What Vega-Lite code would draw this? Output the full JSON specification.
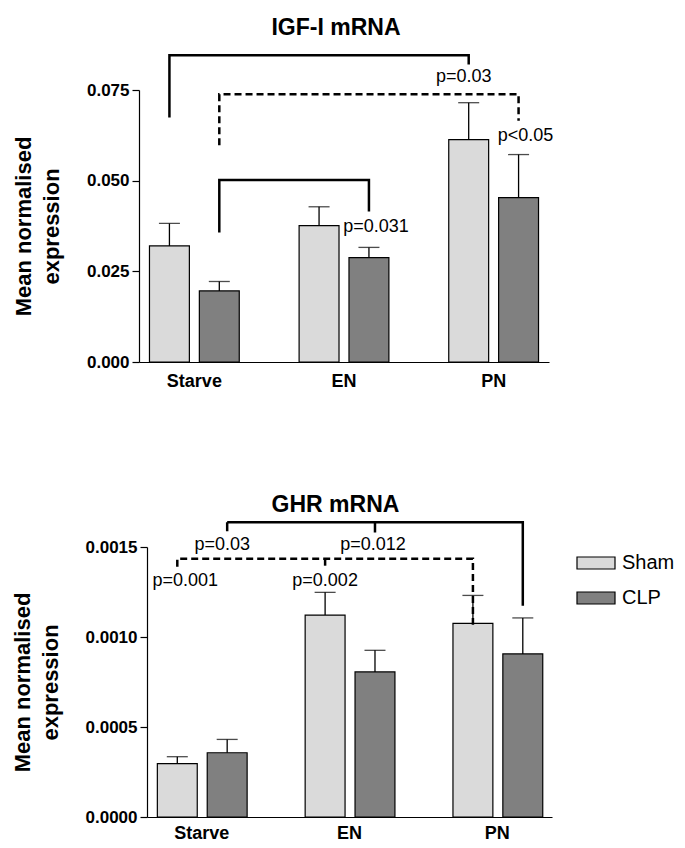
{
  "$schema": "https://vega.github.io/schema/vega-lite/v6.json",
  "background": "white",
  "padding": {"left": 11, "top": 17, "right": 5, "bottom": 5},
  "datasets": {
    "igf": [
      {"group": "Starve", "series": "Sham", "mean": 0.0320, "upper": 0.0382},
      {"group": "Starve", "series": "CLP", "mean": 0.0196, "upper": 0.0222},
      {"group": "EN", "series": "Sham", "mean": 0.0376, "upper": 0.0428},
      {"group": "EN", "series": "CLP", "mean": 0.0288, "upper": 0.0316},
      {"group": "PN", "series": "Sham", "mean": 0.0613, "upper": 0.0715},
      {"group": "PN", "series": "CLP", "mean": 0.0453, "upper": 0.0572}
    ],
    "igf_br": [
      {"id": "a", "style": "solid", "group": "Starve", "series": "Sham", "y": 0.0674, "ord": 1},
      {"id": "a", "style": "solid", "group": "Starve", "series": "Sham", "y": 0.0846, "ord": 2},
      {"id": "a", "style": "solid", "group": "PN", "series": "Sham", "y": 0.0846, "ord": 3},
      {"id": "a", "style": "solid", "group": "PN", "series": "Sham", "y": 0.0820, "ord": 4},
      {"id": "b", "style": "dashed", "group": "Starve", "series": "CLP", "y": 0.0598, "ord": 1},
      {"id": "b", "style": "dashed", "group": "Starve", "series": "CLP", "y": 0.0738, "ord": 2},
      {"id": "b", "style": "dashed", "group": "PN", "series": "CLP", "y": 0.0738, "ord": 3},
      {"id": "b", "style": "dashed", "group": "PN", "series": "CLP", "y": 0.0665, "ord": 4},
      {"id": "c", "style": "solid", "group": "Starve", "series": "CLP", "y": 0.0357, "ord": 1},
      {"id": "c", "style": "solid", "group": "Starve", "series": "CLP", "y": 0.0502, "ord": 2},
      {"id": "c", "style": "solid", "group": "EN", "series": "CLP", "y": 0.0502, "ord": 3},
      {"id": "c", "style": "solid", "group": "EN", "series": "CLP", "y": 0.0415, "ord": 4}
    ],
    "igf_lab": [
      {"group": "PN", "series": "Sham", "y": 0.0787, "label": "p=0.03"},
      {"group": "PN", "series": "CLP", "y": 0.0622, "label": "p<0.05"},
      {"group": "EN", "series": "CLP", "y": 0.0371, "label": "p=0.031"}
    ],
    "ghr": [
      {"group": "Starve", "series": "Sham", "mean": 0.000296, "upper": 0.000335},
      {"group": "Starve", "series": "CLP", "mean": 0.000357, "upper": 0.000431},
      {"group": "EN", "series": "Sham", "mean": 0.001122, "upper": 0.001248},
      {"group": "EN", "series": "CLP", "mean": 0.000806, "upper": 0.000926},
      {"group": "PN", "series": "Sham", "mean": 0.001076, "upper": 0.001231},
      {"group": "PN", "series": "CLP", "mean": 0.000906, "upper": 0.001106}
    ],
    "ghr_br": [
      {"id": "a", "style": "solid", "group": "Starve", "series": "CLP", "y": 0.001587, "ord": 1},
      {"id": "a", "style": "solid", "group": "Starve", "series": "CLP", "y": 0.001637, "ord": 2},
      {"id": "a", "style": "solid", "group": "PN", "series": "CLP", "y": 0.001637, "ord": 3},
      {"id": "a", "style": "solid", "group": "PN", "series": "CLP", "y": 0.001174, "ord": 4},
      {"id": "am", "style": "solid", "group": "EN", "series": "CLP", "y": 0.001637, "ord": 1},
      {"id": "am", "style": "solid", "group": "EN", "series": "CLP", "y": 0.001581, "ord": 2},
      {"id": "b", "style": "dashed", "group": "Starve", "series": "Sham", "y": 0.001390, "ord": 1},
      {"id": "b", "style": "dashed", "group": "Starve", "series": "Sham", "y": 0.001435, "ord": 2},
      {"id": "b", "style": "dashed", "group": "PN", "series": "Sham", "y": 0.001435, "ord": 3},
      {"id": "b", "style": "dashed", "group": "PN", "series": "Sham", "y": 0.001068, "ord": 4},
      {"id": "bm", "style": "dashed", "group": "EN", "series": "Sham", "y": 0.001435, "ord": 1},
      {"id": "bm", "style": "dashed", "group": "EN", "series": "Sham", "y": 0.001390, "ord": 2}
    ],
    "ghr_lab": [
      {"group": "Starve", "series": "CLP", "y": 0.001511, "label": "p=0.03"},
      {"group": "EN", "series": "CLP", "y": 0.001511, "label": "p=0.012"},
      {"group": "Starve", "series": "Sham", "y": 0.001309, "label": "p=0.001"},
      {"group": "EN", "series": "Sham", "y": 0.001309, "label": "p=0.002"}
    ]
  },
  "concat": [
    {
      "title": {"text": "IGF-I mRNA", "fontSize": 23, "fontWeight": "bold", "frame": "group", "anchor": "middle", "dx": -8, "offset": 10},
      "width": 410,
      "height": 272,
      "encoding": {
        "x": {"field": "group", "type": "nominal", "sort": ["Starve", "EN", "PN"], "scale": {"paddingInner": 0.4, "paddingOuter": 0.07}, "axis": {"title": null}},
        "xOffset": {"field": "series", "type": "nominal", "sort": ["Sham", "CLP"], "scale": {"paddingInner": 0.2, "paddingOuter": 0}}
      },
      "layer": [
        {
          "data": {"name": "igf"},
          "mark": {"type": "bar", "stroke": "black", "strokeWidth": 1.2},
          "encoding": {
            "y": {"field": "mean", "type": "quantitative", "scale": {"domain": [0, 0.075], "nice": false}, "axis": {"title": ["Mean normalised", "expression"], "values": [0, 0.025, 0.05, 0.075], "format": ".3f"}},
            "fill": {"field": "series", "type": "nominal", "scale": {"domain": ["Sham", "CLP"], "range": ["#dadada", "#808080"]}, "legend": null}
          }
        },
        {
          "data": {"name": "igf"},
          "mark": {"type": "rule", "color": "black", "strokeWidth": 1.3},
          "encoding": {
            "y": {"field": "mean", "type": "quantitative"},
            "y2": {"field": "upper"}
          }
        },
        {
          "data": {"name": "igf"},
          "mark": {"type": "tick", "color": "black", "size": 21, "thickness": 1.3},
          "encoding": {
            "y": {"field": "upper", "type": "quantitative"}
          }
        },
        {
          "data": {"name": "igf_br"},
          "mark": {"type": "line", "color": "black", "strokeWidth": 2.5, "strokeCap": "butt"},
          "encoding": {
            "y": {"field": "y", "type": "quantitative"},
            "detail": {"field": "id"},
            "order": {"field": "ord", "type": "quantitative"},
            "strokeDash": {"field": "style", "type": "nominal", "scale": {"domain": ["solid", "dashed"], "range": [[1, 0], [7, 4]]}, "legend": null}
          }
        },
        {
          "data": {"name": "igf_lab"},
          "transform": [{"filter": "datum.label === 'p=0.03'"}],
          "mark": {"type": "text", "fontSize": 18, "color": "black", "dx": -5},
          "encoding": {"y": {"field": "y", "type": "quantitative"}, "text": {"field": "label"}}
        },
        {
          "data": {"name": "igf_lab"},
          "transform": [{"filter": "datum.label !== 'p=0.03'"}],
          "mark": {"type": "text", "fontSize": 18, "color": "black", "dx": 7},
          "encoding": {"y": {"field": "y", "type": "quantitative"}, "text": {"field": "label"}}
        }
      ]
    },
    {
      "title": {"text": "GHR mRNA", "fontSize": 23, "fontWeight": "bold", "frame": "group", "anchor": "middle", "dx": -10, "offset": 0},
      "width": 413,
      "height": 270,
      "encoding": {
        "x": {"field": "group", "type": "nominal", "sort": ["Starve", "EN", "PN"], "scale": {"paddingInner": 0.4, "paddingOuter": 0.07, "range": [8, 413]}, "axis": {"title": null, "labelPadding": 7}},
        "xOffset": {"field": "series", "type": "nominal", "sort": ["Sham", "CLP"], "scale": {"paddingInner": 0.2, "paddingOuter": 0}}
      },
      "layer": [
        {
          "data": {"name": "ghr"},
          "mark": {"type": "bar", "stroke": "black", "strokeWidth": 1.2},
          "encoding": {
            "y": {"field": "mean", "type": "quantitative", "scale": {"domain": [0, 0.0015], "nice": false}, "axis": {"title": ["Mean normalised", "expression"], "values": [0, 0.0005, 0.001, 0.0015], "format": ".4f", "offset": -8}},
            "fill": {"field": "series", "type": "nominal", "scale": {"domain": ["Sham", "CLP"], "range": ["#dadada", "#808080"]},
              "legend": {"title": null, "orient": "none", "legendX": 437, "legendY": -4, "symbolType": "M-1,-0.316L1,-0.316L1,0.316L-1,0.316Z", "symbolSize": 1444, "symbolStrokeColor": "black", "symbolStrokeWidth": 1.2, "labelFontSize": 20, "labelColor": "black", "rowPadding": 5, "labelOffset": 6}}
          }
        },
        {
          "data": {"name": "ghr"},
          "mark": {"type": "rule", "color": "black", "strokeWidth": 1.3},
          "encoding": {
            "y": {"field": "mean", "type": "quantitative"},
            "y2": {"field": "upper"}
          }
        },
        {
          "data": {"name": "ghr"},
          "mark": {"type": "tick", "color": "black", "size": 21, "thickness": 1.3},
          "encoding": {
            "y": {"field": "upper", "type": "quantitative"}
          }
        },
        {
          "data": {"name": "ghr_br"},
          "mark": {"type": "line", "color": "black", "strokeWidth": 2.5, "strokeCap": "butt"},
          "encoding": {
            "y": {"field": "y", "type": "quantitative"},
            "detail": {"field": "id"},
            "order": {"field": "ord", "type": "quantitative"},
            "strokeDash": {"field": "style", "type": "nominal", "scale": {"domain": ["solid", "dashed"], "range": [[1, 0], [7, 4]]}, "legend": null}
          }
        },
        {
          "data": {"name": "ghr_lab"},
          "transform": [{"filter": "datum.label === 'p=0.03'"}],
          "mark": {"type": "text", "fontSize": 18, "color": "black", "dx": -5},
          "encoding": {"y": {"field": "y", "type": "quantitative"}, "text": {"field": "label"}}
        },
        {
          "data": {"name": "ghr_lab"},
          "transform": [{"filter": "datum.label === 'p=0.012'"}],
          "mark": {"type": "text", "fontSize": 18, "color": "black", "dx": -2},
          "encoding": {"y": {"field": "y", "type": "quantitative"}, "text": {"field": "label"}}
        },
        {
          "data": {"name": "ghr_lab"},
          "transform": [{"filter": "datum.label === 'p=0.001'"}],
          "mark": {"type": "text", "fontSize": 18, "color": "black", "dx": 8},
          "encoding": {"y": {"field": "y", "type": "quantitative"}, "text": {"field": "label"}}
        },
        {
          "data": {"name": "ghr_lab"},
          "transform": [{"filter": "datum.label === 'p=0.002'"}],
          "mark": {"type": "text", "fontSize": 18, "color": "black"},
          "encoding": {"y": {"field": "y", "type": "quantitative"}, "text": {"field": "label"}}
        }
      ]
    }
  ],
  "columns": 1,
  "align": "none",
  "spacing": 104,
  "resolve": {"scale": {"fill": "independent", "strokeDash": "independent"}, "legend": {"fill": "independent"}},
  "config": {
    "font": "Liberation Sans",
    "view": {"stroke": null},
    "title": {"color": "black", "font": "Liberation Sans"},
    "axis": {
      "grid": false,
      "domainColor": "black",
      "domainWidth": 1.2,
      "tickColor": "black",
      "tickWidth": 1.2,
      "tickSize": 7,
      "labelColor": "black",
      "labelFont": "Liberation Sans",
      "labelFontWeight": "bold",
      "labelFontSize": 17,
      "labelPadding": 3,
      "titleColor": "black",
      "titleFont": "Liberation Sans",
      "titleFontWeight": "bold",
      "titleFontSize": 22,
      "titleLineHeight": 28,
      "titlePadding": 23
    },
    "axisX": {"ticks": false, "labelAngle": 0, "labelPadding": 10, "labelFontSize": 18},
    "legend": {"labelFont": "Liberation Sans"}
  }
}
